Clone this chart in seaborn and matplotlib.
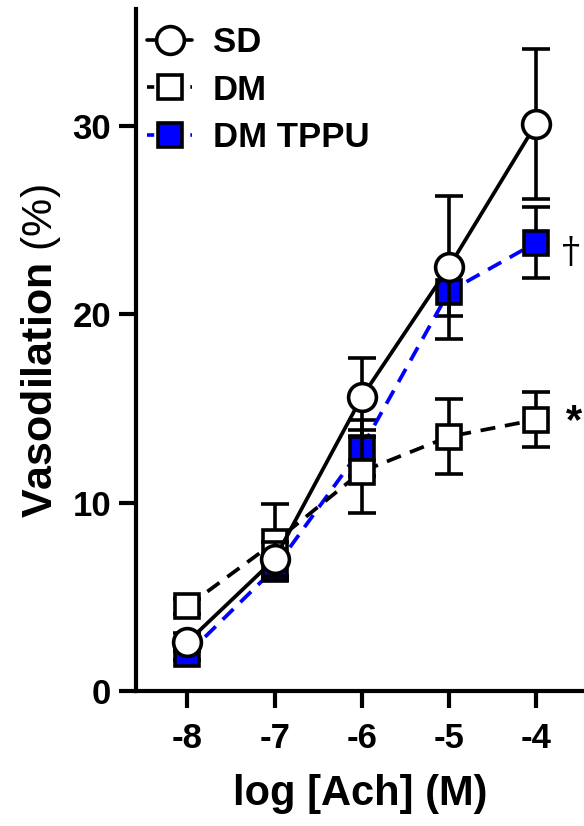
import numpy as np
import pandas as pd
import matplotlib
matplotlib.use("Agg")
import matplotlib.pyplot as plt
from matplotlib.lines import Line2D
import seaborn as sns

# ── Data (mean ± SEM) ────────────────────────────────────────────────────────
log_ach = [-8, -7, -6, -5, -4]
sd_mean = [2.6, 7.0, 15.6, 22.5, 30.1]
sd_sem = [0.5, 0.9, 2.1, 3.8, 4.0]
dm_mean = [4.5, 7.9, 11.65, 13.5, 14.4]
dm_sem = [0.4, 2.0, 2.2, 2.0, 1.45]
tppu_mean = [1.95, 6.5, 12.9, 21.2, 23.8]
tppu_sem = [0.3, 0.5, 1.5, 1.3, 1.9]
labels = ["SD", "DM", "DM TPPU"]

sns.set_theme(style="ticks")
plt.rcParams["font.family"] = ["Liberation Sans", "DejaVu Sans"]
plt.rcParams["font.weight"] = "bold"
plt.rcParams["text.color"] = "black"
plt.rcParams["xtick.color"] = "black"
plt.rcParams["ytick.color"] = "black"
plt.rcParams["axes.labelcolor"] = "black"
plt.rcParams["mathtext.fontset"] = "custom"
plt.rcParams["mathtext.bf"] = "Liberation Sans:bold"
plt.rcParams["mathtext.rm"] = "Liberation Sans"

fig = plt.figure(figsize=(5.84, 8.26), dpi=100)
ax = fig.add_axes([136 / 584, 135 / 826, 1 - 136 / 584, (691 - 9) / 826])

series = [
    # label, mean, sem, face, line colour, dashed, marker, size, zorder
    ("DM TPPU", tppu_mean, tppu_sem, "#0000ff", "#0000ff", True, "s", 17, 3),
    ("DM", dm_mean, dm_sem, "white", "black", True, "s", 17, 4),
    ("SD", sd_mean, sd_sem, "white", "black", False, "o", 20, 5),
]

for name, mean, sem, face, lc, dashed, mk, ms, z in series:
    df = pd.DataFrame({"x": log_ach, "y": mean})
    ax.errorbar(log_ach, mean, yerr=sem, fmt="none", ecolor="black",
                elinewidth=2.6, capsize=10, capthick=2.6, zorder=z)
    ls = (0, (4, 2.6)) if dashed else "-"
    sns.lineplot(data=df, x="x", y="y", ax=ax, color=lc, linewidth=2.7,
                 linestyle=ls, marker=mk, markersize=ms,
                 markerfacecolor=face, markeredgecolor="black",
                 markeredgewidth=2.6, zorder=z + 0.5)

# significance marks next to the last points
ax.annotate("†", (log_ach[-1], tppu_mean[-1]), xytext=(25, -7),
            textcoords="offset points", fontsize=26, fontweight="normal",
            family="DejaVu Serif", ha="center", va="center")
ax.annotate("*", (log_ach[-1], dm_mean[-1]), xytext=(27, -2),
            textcoords="offset points", fontsize=30, fontweight="bold",
            ha="center", va="center")

ax.set_xlim(-8.59, -3.45)
ax.set_ylim(0, 36.2)
ax.set_xticks(log_ach)
ax.set_xticklabels([str(v) for v in log_ach])
ax.set_yticks([0, 10, 20, 30])
sns.despine(ax=ax)
for s in ("left", "bottom"):
    ax.spines[s].set_linewidth(3)
    ax.spines[s].set_color("black")
ax.tick_params(axis="both", length=12, width=3, color="black",
               labelsize=25, pad=6)
ax.tick_params(axis="x", pad=10)
for t in ax.get_xticklabels() + ax.get_yticklabels():
    t.set_fontweight("bold")
ax.set_xlabel("log [Ach] (M)", fontsize=30, fontweight="bold", labelpad=14)
ax.set_ylabel("")
# y label: bold word, regular bracket part
fig.text(41 / 584, 1 - 351 / 826, r"$\bf{Vasodilation}$ (%)", rotation=90,
         fontsize=31, fontweight="normal", ha="center", va="center")

# legend
handles = []
for name, mean, sem, face, lc, dashed, mk, ms, z in series[::-1]:
    handles.append(Line2D([], [], color=lc, linewidth=2.6,
                          linestyle=(0, (2, 2)) if dashed else "-",
                          marker=mk, markersize=ms,
                          markerfacecolor=face, markeredgecolor="black",
                          markeredgewidth=2.6))
ax.legend(handles, labels, loc="upper left", frameon=False,
          bbox_to_anchor=(147 / 584, 1 - 26 / 826),
          bbox_transform=fig.transFigure, borderpad=0, borderaxespad=0,
          handlelength=1.3, handletextpad=0.6, labelspacing=0.42,
          prop={"size": 25, "weight": "bold"})

fig.savefig("out.png", dpi=100)
